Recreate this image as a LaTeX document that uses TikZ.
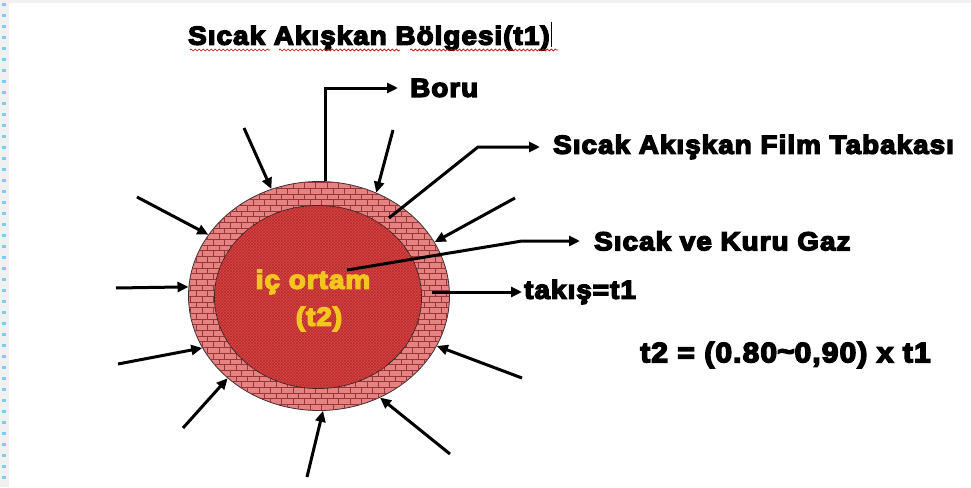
\documentclass[tikz,border=0pt]{standalone}
\usepackage{fontspec}
\newfontfamily\heavy{Liberation Sans}[UprightFont=* Bold,FakeStretch=1.07,FakeBold=5.5,LetterSpace=4]
\usetikzlibrary{shapes.geometric,arrows.meta,patterns,decorations.pathmorphing}
\definecolor{stripgray}{RGB}{240,240,240}
\definecolor{dotblue}{RGB}{120,205,240}
\definecolor{ringred}{RGB}{230,130,130}
\definecolor{brickdark}{RGB}{150,55,55}
\definecolor{corered}{RGB}{222,70,70}
\definecolor{coredark}{RGB}{180,45,45}
\definecolor{txtyellow}{RGB}{242,198,28}
\tikzset{
  arr/.style={line width=3pt,-{Triangle[length=11pt,width=10pt]}},
  lbl/.style={inner sep=0pt,anchor=west,font=\heavy\fontsize{26}{30}\selectfont},
  ylbl/.style={inner sep=0pt,text=txtyellow,font=\heavy\fontsize{26}{30}\selectfont},
  squig/.style={red!80!black,line width=0.7pt,decorate,decoration={snake,amplitude=1pt,segment length=4pt}}
}
\begin{document}
\begin{tikzpicture}[x=1pt,y=-1pt]
\useasboundingbox (0,0) rectangle (971,487);
\fill[white] (0,0) rectangle (971,487);
\fill[stripgray] (0,0) rectangle (9,487);
\fill[stripgray] (0,0) rectangle (971,3);
\foreach \yy in {3,14,...,480} \fill[dotblue] (2,\yy) rectangle (6,\yy+3);

% pipe
\node[ellipse,draw=black!80,line width=0.8pt,minimum width=261pt,minimum height=229pt,inner sep=0pt,
  fill=ringred,postaction={pattern=bricks,pattern color=brickdark}] (outer) at (319,296) {};
\node[ellipse,draw=black!85,line width=0.8pt,minimum width=207pt,minimum height=183pt,inner sep=0pt,
  fill=corered,postaction={pattern=crosshatch,pattern color=coredark}] (inner) at (318,297) {};

\node[ylbl] (ic) at (313,282) {iç ortam};
\node[ylbl] (t2) at (319,319) {(t2)};

% title
\node[lbl,font=\heavy\fontsize{26}{30}\selectfont] (title) at (188,38) {Sıcak Akışkan Bölgesi(t1)};
\draw[line width=1pt] ([xshift=2pt]title.east |- 0,22) -- ([xshift=2pt]title.east |- 0,47);
\draw[squig] (190,50) -- (270,50);
\draw[squig] (279,50) -- (400,50);
\draw[squig] (410,50) -- (558,50);

% labels
\node[lbl] (boru) at (410,88) {Boru};
\node[lbl] (film) at (553,147) {Sıcak Akışkan Film Tabakası};
\node[lbl] (gaz) at (594,241) {Sıcak ve Kuru Gaz};
\node[lbl] (takis) at (524,292) {takış=t1};
\node[lbl,font=\heavy\fontsize{28}{32}\selectfont] (formula) at (640,355) {t2 = (0.80\raisebox{0.1ex}{\textasciitilde}0,90) x t1};

% free ends
\coordinate (a1) at (244,128);
\coordinate (a3) at (393,130);
\coordinate (a5) at (515,198);
\coordinate (a8) at (522,378);
\coordinate (a9) at (450,454);
\coordinate (a10) at (307,477);
\coordinate (a11) at (183,428);
\coordinate (a12) at (118,364);
\coordinate (a13) at (116,288);
\coordinate (a14) at (137,197);
\coordinate (filmstart) at (389,218);
\coordinate (filmbend) at (478,147);
\coordinate (gazstart) at (347,270);
\coordinate (gazbend) at (522,241);
\coordinate (takstart) at (432,292);

% incoming arrows
\draw[arr] (a1) -- (outer.114);
\draw[arr] (a3) -- (outer.61);
\draw[arr] (a5) -- (outer.25);
\draw[arr] (a8) -- (outer.-23);
\draw[arr] (a9) -- (outer.-59);
\draw[arr] (a10) -- (outer.-88.5);
\draw[arr] (a11) -- (outer.222);
\draw[arr] (a12) -- (outer.204);
\draw[arr] (a13) -- (outer.176.5);
\draw[arr] (a14) -- (outer.151.5);

% label leaders
\draw[arr,line join=miter] (outer.87.5) |- ([xshift=-12pt]boru.west);
\draw[arr] (filmstart) -- (filmbend) -- ([xshift=-13pt]film.west);
\draw[arr] (gazstart) -- (gazbend) -- ([xshift=-14pt]gaz.west);
\draw[arr] (takstart) -- ([xshift=-2pt]takis.west);
\end{tikzpicture}
\end{document}
